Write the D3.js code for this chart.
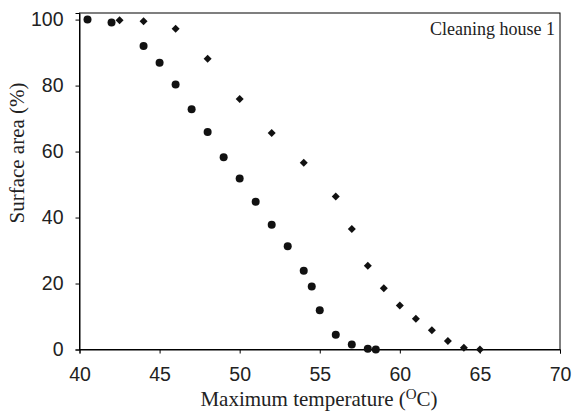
<!DOCTYPE html>
<html lang="en">
<head>
<meta charset="UTF-8">
<title>Cleaning house 1</title>
<style>
  body { margin: 0; background: #fff; }
</style>
</head>
<body>
<script src="https://cdn.jsdelivr.net/npm/d3@7"></script>
<script>
    // data
    var circleTemp = [40.5, 42, 44, 45, 46, 47, 48, 49, 50, 51, 52, 53, 54, 54.5, 55, 56, 57, 58, 58.5];
    var circleArea = [100, 99.1, 92, 86.9, 80.3, 72.8, 65.9, 58.3, 51.8, 44.8, 37.8, 31.3, 23.9, 19.1, 11.9, 4.5, 1.5, 0.2, 0];
    var diamondTemp = [42.5, 44, 46, 48, 50, 52, 54, 56, 57, 58, 59, 60, 61, 62, 63, 64, 65];
    var diamondArea = [99.8, 99.5, 97.2, 88.1, 75.9, 65.6, 56.6, 46.4, 36.5, 25.4, 18.6, 13.3, 9.3, 5.8, 2.6, 0.5, 0];
    var xTicks = [40, 45, 50, 55, 60, 65, 70];
    var yTicks = [0, 20, 40, 60, 80, 100];

    var width = 573, height = 414;
    // plot box (note: "top" is taken by window.top, so use plot* names)
    var plotL = 79.5, plotR = 560, plotT = 13, plotB = 349.5;

    var svg = d3.select("body").append("svg")
        .attr("width", width)
        .attr("height", height);

    var x = d3.scaleLinear().domain([40, 70]).range([plotL, plotR]);
    var y = d3.scaleLinear().domain([0, 102]).range([plotB, plotT]);

    // frame
    svg.append("rect")
        .attr("x", plotL).attr("y", plotT)
        .attr("width", plotR - plotL).attr("height", plotB - plotT)
        .attr("fill", "none").attr("stroke", "#000").attr("stroke-width", 1);

    var xAxis = svg.append("g")
        .attr("transform", "translate(0," + plotB + ")")
        .call(d3.axisBottom(x).tickValues(xTicks).tickSizeOuter(0).tickSize(4).tickPadding(14));
    var yAxis = svg.append("g")
        .attr("transform", "translate(" + plotL + ",0)")
        .call(d3.axisLeft(y).tickValues(yTicks).tickSizeOuter(0).tickSize(4).tickPadding(12));

    [xAxis, yAxis].forEach(function(a){
        a.select(".domain").attr("stroke", "#000");
        a.selectAll(".tick line").attr("stroke", "#000");
        a.selectAll("text")
            .attr("fill", "#222")
            .style("font-family", "'Liberation Sans', Arial, sans-serif")
            .style("font-size", "19.5px");
    });

    var circles = circleTemp.map(function(t, i){ return {t: t, a: circleArea[i]}; });
    var diamonds = diamondTemp.map(function(t, i){ return {t: t, a: diamondArea[i]}; });

    svg.append("g").selectAll("circle").data(circles)
        .enter().append("circle")
        .attr("cx", function(d){ return x(d.t); })
        .attr("cy", function(d){ return y(d.a); })
        .attr("r", 4)
        .attr("fill", "#111");

    var dsym = d3.symbol().type(d3.symbolSquare).size(32);
    svg.append("g").selectAll("path").data(diamonds)
        .enter().append("path")
        .attr("d", dsym)
        .attr("transform", function(d){ return "translate(" + x(d.t) + "," + y(d.a) + ") rotate(45)"; })
        .attr("fill", "#111");

    svg.append("text")
        .attr("x", 555).attr("y", 35)
        .attr("text-anchor", "end")
        .attr("fill", "#222")
        .style("font-family", "'Liberation Serif', 'Times New Roman', serif")
        .style("font-size", "18px")
        .text("Cleaning house 1");

    var xt = svg.append("text")
        .attr("x", 319).attr("y", 406)
        .attr("text-anchor", "middle")
        .attr("fill", "#222")
        .style("font-family", "'Liberation Serif', 'Times New Roman', serif")
        .style("font-size", "21px");
    xt.append("tspan").text("Maximum temperature (");
    xt.append("tspan").attr("dy", -7).style("font-size", "15px").text("O");
    xt.append("tspan").attr("dy", 7).text("C)");

    svg.append("text")
        .attr("transform", "translate(23.5,153) rotate(-90)")
        .attr("text-anchor", "middle")
        .attr("fill", "#222")
        .style("font-family", "'Liberation Serif', 'Times New Roman', serif")
        .style("font-size", "21px")
        .text("Surface area (%)");
</script>
</body>
</html>
